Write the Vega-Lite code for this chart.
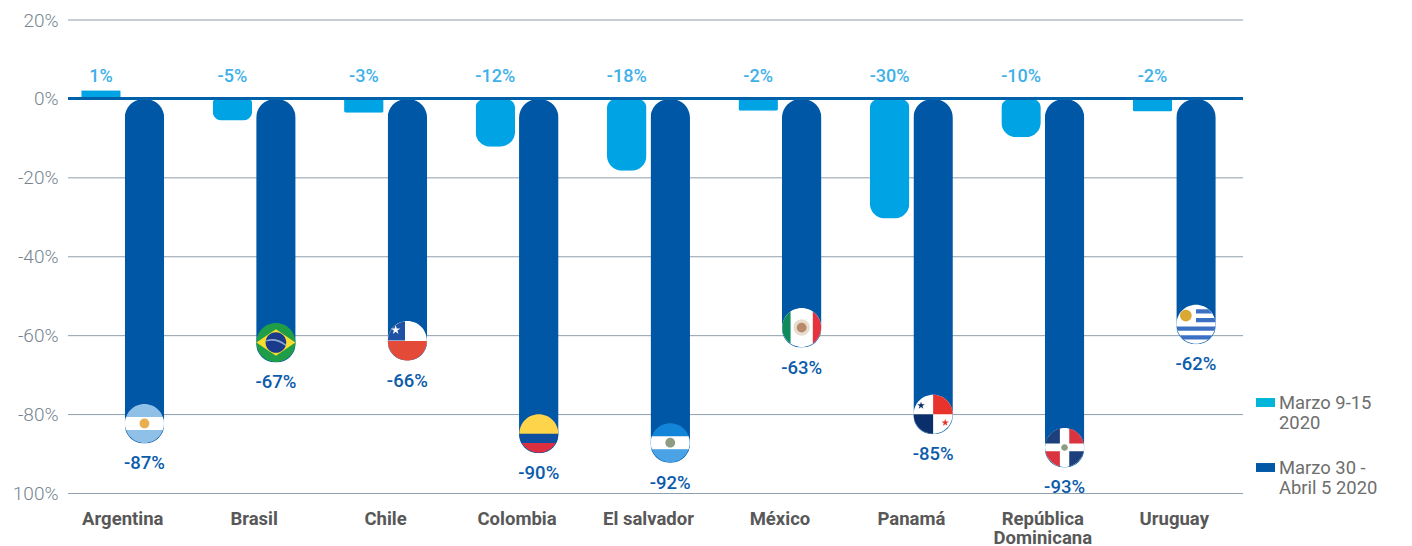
{
"$schema":"https://vega.github.io/schema/vega-lite/v6.json",
"width":1175,"height":473.5,
"autosize":{"type":"none"},
"padding":{"left":68,"top":20,"right":169,"bottom":52.5},
"background":"white",
"view":{"stroke":null},
"config":{"font":"Roboto"},
"datasets":{
"main":[
{"country":"Argentina","series":"Marzo 9-15 2020","value":2.2,"label":"1%"},
{"country":"Brasil","series":"Marzo 9-15 2020","value":-5.5,"label":"-5%"},
{"country":"Chile","series":"Marzo 9-15 2020","value":-3.5,"label":"-3%"},
{"country":"Colombia","series":"Marzo 9-15 2020","value":-12.1,"label":"-12%"},
{"country":"El salvador","series":"Marzo 9-15 2020","value":-18.2,"label":"-18%"},
{"country":"México","series":"Marzo 9-15 2020","value":-3,"label":"-2%"},
{"country":"Panamá","series":"Marzo 9-15 2020","value":-30.3,"label":"-30%"},
{"country":"República Dominicana","series":"Marzo 9-15 2020","value":-9.7,"label":"-10%"},
{"country":"Uruguay","series":"Marzo 9-15 2020","value":-3.2,"label":"-2%"},
{"country":"Argentina","series":"Marzo 30 - Abril 5 2020","value":-87.3,"label":"-87%"},
{"country":"Brasil","series":"Marzo 30 - Abril 5 2020","value":-66.8,"label":"-67%"},
{"country":"Chile","series":"Marzo 30 - Abril 5 2020","value":-66.3,"label":"-66%"},
{"country":"Colombia","series":"Marzo 30 - Abril 5 2020","value":-89.8,"label":"-90%"},
{"country":"El salvador","series":"Marzo 30 - Abril 5 2020","value":-92.2,"label":"-92%"},
{"country":"México","series":"Marzo 30 - Abril 5 2020","value":-63,"label":"-63%"},
{"country":"Panamá","series":"Marzo 30 - Abril 5 2020","value":-85,"label":"-85%"},
{"country":"República Dominicana","series":"Marzo 30 - Abril 5 2020","value":-93.4,"label":"-93%"},
{"country":"Uruguay","series":"Marzo 30 - Abril 5 2020","value":-62.2,"label":"-62%"}
],
"gridlines":[{"tick":20},{"tick":-20},{"tick":-40},{"tick":-60},{"tick":-80},{"tick":-100}],
"flags":[
{"country":"Argentina","value":-87.3,"part":"disc","tint":"sky"},
{"country":"Argentina","value":-87.3,"part":"midBand","tint":"white"},
{"country":"Argentina","value":-87.3,"part":"dotCenter","tint":"sun"},
{"country":"Brasil","value":-66.8,"part":"disc","tint":"green"},
{"country":"Brasil","value":-66.8,"part":"diamond","tint":"yellow"},
{"country":"Brasil","value":-66.8,"part":"globe","tint":"globeBlue"},
{"country":"Brasil","value":-66.8,"part":"globeArc","tint":"arcBlue"},
{"country":"Chile","value":-66.3,"part":"disc","tint":"white"},
{"country":"Chile","value":-66.3,"part":"chileCanton","tint":"chileBlue"},
{"country":"Chile","value":-66.3,"part":"halfBottom","tint":"chileRed"},
{"country":"Chile","value":-66.3,"part":"chileStar","tint":"white"},
{"country":"Colombia","value":-89.8,"part":"disc","tint":"colBlue"},
{"country":"Colombia","value":-89.8,"part":"halfTop","tint":"colYellow"},
{"country":"Colombia","value":-89.8,"part":"capLow","tint":"colRed"},
{"country":"El salvador","value":-92.2,"part":"disc","tint":"svBlue"},
{"country":"El salvador","value":-92.2,"part":"capBottom","tint":"svLight"},
{"country":"El salvador","value":-92.2,"part":"midBand","tint":"white"},
{"country":"El salvador","value":-92.2,"part":"dotCenter","tint":"emblem"},
{"country":"México","value":-63,"part":"disc","tint":"white"},
{"country":"México","value":-63,"part":"capLeft","tint":"mxGreen"},
{"country":"México","value":-63,"part":"capRight","tint":"mxRed"},
{"country":"México","value":-63,"part":"dotLarge","tint":"mxPale"},
{"country":"México","value":-63,"part":"dotCenter","tint":"mxBrown"},
{"country":"Panamá","value":-85,"part":"disc","tint":"white"},
{"country":"Panamá","value":-85,"part":"quadTR","tint":"paRed"},
{"country":"Panamá","value":-85,"part":"quadBL","tint":"paNavy"},
{"country":"Panamá","value":-85,"part":"paStarA","tint":"paNavy"},
{"country":"Panamá","value":-85,"part":"paStarB","tint":"paRed"},
{"country":"República Dominicana","value":-93.4,"part":"disc","tint":"white"},
{"country":"República Dominicana","value":-93.4,"part":"crossTL","tint":"rdNavy"},
{"country":"República Dominicana","value":-93.4,"part":"crossTR","tint":"rdRed"},
{"country":"República Dominicana","value":-93.4,"part":"crossBL","tint":"rdRed"},
{"country":"República Dominicana","value":-93.4,"part":"crossBR","tint":"rdNavy"},
{"country":"República Dominicana","value":-93.4,"part":"dotSmall","tint":"emblem"},
{"country":"Uruguay","value":-62.2,"part":"disc","tint":"white"},
{"country":"Uruguay","value":-62.2,"part":"stripeA","tint":"uyBlue"},
{"country":"Uruguay","value":-62.2,"part":"stripeB","tint":"uyBlue"},
{"country":"Uruguay","value":-62.2,"part":"stripeC","tint":"uyBlue"},
{"country":"Uruguay","value":-62.2,"part":"stripeD","tint":"uyBlue"},
{"country":"Uruguay","value":-62.2,"part":"uySun","tint":"uyGold"}
]
},
"encoding":{
"y":{"type":"quantitative","scale":{"domain":[-100,20],"nice":false,"zero":false},
"axis":{"title":null,"values":[20,0,-20,-40,-60,-80,-100],"domain":false,"ticks":false,"labelPadding":10,"labelFont":"Roboto","labelFontWeight":300,"labelFontSize":19,"labelColor":"#76858f","labelExpr":"datum.value==-100?'100%':datum.value+'%'","grid":false,"labelOverlap":false}}
},
"layer":[
{
"data":{"name":"gridlines"},
"mark":{"type":"rule","color":"#8f9fad","strokeWidth":1},
"encoding":{"y":{"field":"tick","type":"quantitative"}}
},
{
"data":{"name":"main"},
"encoding":{
"x":{"field":"country","type":"nominal","sort":null,"title":null,"scale":{"domain":["Argentina","Brasil","Chile","Colombia","El salvador","México","Panamá","República Dominicana","Uruguay"],"range":[-11,1172],"paddingInner":0,"paddingOuter":0},
"axis":{"domain":false,"ticks":false,"labelAngle":0,"labelFont":"Roboto","labelFontWeight":700,"labelFontSize":18.5,"labelColor":"#585858","labelPadding":16,"labelLineHeight":19,"labelBaseline":"top","labelExpr":"datum.value=='República Dominicana'?['República','Dominicana']:datum.value"}},
"xOffset":{"field":"series","type":"nominal","sort":null,"scale":{"domain":["Marzo 9-15 2020","Marzo 30 - Abril 5 2020"],"range":[24.2,107.2],"paddingInner":0.092,"paddingOuter":0}},
"y":{"field":"value","type":"quantitative"}
},
"layer":[
{"transform":[{"filter":"datum.series=='Marzo 30 - Abril 5 2020'"}],
 "mark":{"type":"bar","cornerRadius":19},
 "encoding":{"color":{"field":"series","type":"nominal","legend":null,"scale":{"domain":["Marzo 9-15 2020","Marzo 30 - Abril 5 2020"],"range":["#00a3e3","#0057a6"]}}}},
{"transform":[{"filter":"datum.series=='Marzo 9-15 2020' && datum.value<=-9"}],
 "mark":{"type":"bar","cornerRadiusTopLeft":9,"cornerRadiusTopRight":9,"cornerRadiusBottomLeft":15,"cornerRadiusBottomRight":15},
 "encoding":{"color":{"field":"series","type":"nominal","legend":null}}},
{"transform":[{"filter":"datum.series=='Marzo 9-15 2020' && datum.value>-9 && datum.value<=-5"}],
 "mark":{"type":"bar","cornerRadiusTopLeft":4,"cornerRadiusTopRight":4,"cornerRadiusBottomLeft":9,"cornerRadiusBottomRight":9},
 "encoding":{"color":{"field":"series","type":"nominal","legend":null}}},
{"transform":[{"filter":"datum.series=='Marzo 9-15 2020' && datum.value>-5"}],
 "mark":{"type":"bar","cornerRadiusBottomLeft":2,"cornerRadiusBottomRight":2},
 "encoding":{"color":{"field":"series","type":"nominal","legend":null}}},
{"transform":[{"filter":"datum.series=='Marzo 9-15 2020'"}],
 "mark":{"type":"text","font":"Roboto","fontWeight":500,"fontSize":18,"color":"#3eb1ea","baseline":"middle","yOffset":-22},
 "encoding":{"y":{"datum":0},"text":{"field":"label"}}},
{"transform":[{"filter":"datum.series=='Marzo 30 - Abril 5 2020'"}],
 "mark":{"type":"text","font":"Roboto","fontWeight":500,"fontSize":18.5,"color":"#0b5cab","baseline":"middle","yOffset":20},
 "encoding":{"text":{"field":"label"}}}
]
},
{
"data":{"values":[{"baseline":0}]},
"mark":{"type":"rule","color":"#0060aa","strokeWidth":3,"yOffset":-0.5},
"encoding":{"y":{"field":"baseline","type":"quantitative"}}
},
{
"data":{"name":"flags"},
"mark":{"type":"point","filled":true,"size":1521,"opacity":1,"strokeWidth":0,"yOffset":-20},
"encoding":{
"x":{"field":"country","type":"nominal","sort":null},
"xOffset":{"datum":"Marzo 30 - Abril 5 2020"},
"y":{"field":"value","type":"quantitative"},
"color":{"field":"tint","type":"nominal","legend":null,"scale":{
"domain":["white","sky","sun","green","yellow","globeBlue","arcBlue","chileBlue","chileRed","colBlue","colYellow","colRed","svBlue","svLight","emblem","mxGreen","mxRed","mxBrown","mxPale","paRed","paNavy","rdNavy","rdRed","uyBlue","uyGold"],
"range":["#ffffff","#8fc1e8","#e9ad52","#1f9e47","#f9dc2e","#1a3a8c","#8ea8d0","#1f52a5","#e34a38","#0f4fa0","#fdd44a","#dc3040","#1285d8","#4ba3e6","#8d9d83","#0f8a5c","#e4323f","#b98a6a","#e6ddcf","#e8322c","#0b2f6b","#1d3f7c","#d9343f","#3c70c4","#d9a933"]}},
"shape":{"field":"part","type":"nominal","legend":null,"scale":{
"domain":["disc","midBand","dotCenter","dotLarge","dotSmall","diamond","globe","globeArc","chileCanton","halfBottom","halfTop","chileStar","capLow","capBottom","capLeft","capRight","quadTR","quadBL","paStarA","paStarB","crossTL","crossTR","crossBL","crossBR","stripeA","stripeB","stripeC","stripeD","uySun"],
"range":[
"M-1,0A1,1 0 1 1 1,0A1,1 0 1 1 -1,0Z",
"M-0.943,-0.333L0.943,-0.333A1,1 0 0 1 0.943,0.333L-0.943,0.333A1,1 0 0 1 -0.943,-0.333Z",
"M-0.25,0A0.25,0.25 0 1 1 0.25,0A0.25,0.25 0 1 1 -0.25,0Z",
"M-0.42,0A0.42,0.42 0 1 1 0.42,0A0.42,0.42 0 1 1 -0.42,0Z",
"M-0.17,0A0.17,0.17 0 1 1 0.17,0A0.17,0.17 0 1 1 -0.17,0Z",
"M-1,0L0,-0.68L1,0L0,0.68Z",
"M-0.53,0A0.53,0.53 0 1 1 0.53,0A0.53,0.53 0 1 1 -0.53,0Z",
"M-0.5,-0.12Q0,-0.3 0.52,0.1L0.5,0.18Q0,-0.2 -0.52,-0.05Z",
"M-0.12,0L-1,0A1,1 0 0 1 -0.12,-0.993Z",
"M1,0.03A1,1 0 0 1 -1,0.03Z",
"M-1,0.02A1,1 0 0 1 1,0.02Z",
"M-0.6,-0.79L-0.544,-0.617L-0.362,-0.617L-0.509,-0.51L-0.453,-0.338L-0.6,-0.445L-0.747,-0.338L-0.691,-0.51L-0.838,-0.617L-0.656,-0.617Z",
"M0.866,0.5A1,1 0 0 1 -0.866,0.5Z",
"M0.943,0.333A1,1 0 0 1 -0.943,0.333Z",
"M-0.57,0.82A1,1 0 0 1 -0.57,-0.82Z",
"M0.57,-0.82A1,1 0 0 1 0.57,0.82Z",
"M0,0L0,-1A1,1 0 0 1 1,0Z",
"M0,0L0,1A1,1 0 0 1 -1,0Z",
"M-0.62,-0.65L-0.575,-0.512L-0.43,-0.512L-0.547,-0.426L-0.502,-0.288L-0.62,-0.374L-0.738,-0.288L-0.693,-0.426L-0.81,-0.512L-0.665,-0.512Z",
"M0.62,0.23L0.665,0.368L0.81,0.368L0.693,0.454L0.738,0.592L0.62,0.506L0.502,0.592L0.547,0.454L0.43,0.368L0.575,0.368Z",
"M-0.24,-0.2L-0.98,-0.2A1,1 0 0 1 -0.24,-0.971Z",
"M0.24,-0.2L0.24,-0.971A1,1 0 0 1 0.98,-0.2Z",
"M-0.24,0.2L-0.24,0.971A1,1 0 0 1 -0.98,0.2Z",
"M0.24,0.2L0.98,0.2A1,1 0 0 1 0.24,0.971Z",
"M0,-0.78L0.626,-0.78A1,1 0 0 1 0.828,-0.56L0,-0.56Z",
"M0,-0.33L0.944,-0.33A1,1 0 0 1 0.994,-0.11L0,-0.11Z",
"M-0.994,0.11L0.994,0.11A1,1 0 0 1 0.944,0.33L-0.944,0.33A1,1 0 0 1 -0.994,0.11Z",
"M-0.828,0.56L0.828,0.56A1,1 0 0 1 0.626,0.78L-0.626,0.78A1,1 0 0 1 -0.828,0.56Z",
"M-0.82,-0.45A0.3,0.3 0 1 1 -0.22,-0.45A0.3,0.3 0 1 1 -0.82,-0.45Z"
]}}
}
},
{
"data":{"name":"main"},
"mark":{"type":"point","filled":true,"size":0,"opacity":1},
"encoding":{
"color":{"field":"series","type":"nominal","scale":{"domain":["Marzo 9-15 2020","Marzo 30 - Abril 5 2020"],"range":["#00b5d8","#0057a6"]},
"legend":{"title":null,"orient":"none","legendX":1188,"legendY":373,"direction":"vertical","symbolType":"M-1,-0.47H1V0.47H-1Z","symbolSize":361,"symbolOpacity":1,"symbolStrokeWidth":0,"labelFont":"Roboto","labelFontSize":18.4,"labelColor":"#6e6e6e","labelLimit":140,"rowPadding":25,"labelOffset":4,"labelExpr":"datum.label=='Marzo 9-15 2020'?['Marzo 9-15','2020']:['Marzo 30 -','Abril 5 2020']"}}
}
}
],
"resolve":{"scale":{"color":"independent"}}
}
